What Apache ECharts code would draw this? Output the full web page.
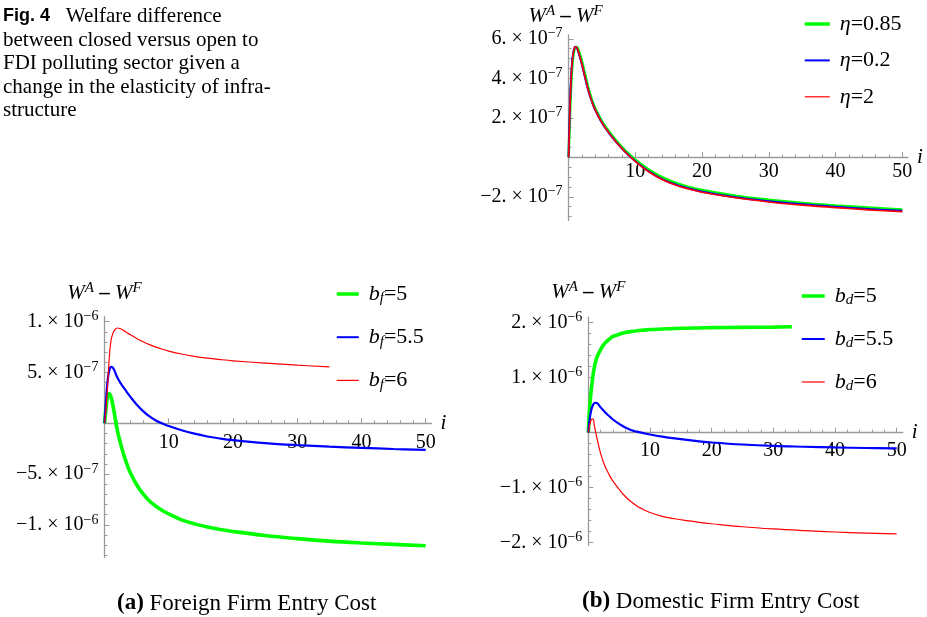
<!DOCTYPE html>
<html>
<head>
<meta charset="utf-8">
<script src="https://cdn.jsdelivr.net/npm/echarts@6/dist/echarts.min.js"></script>
<style>
  html, body { margin: 0; padding: 0; background: #ffffff; }
  #main { width: 927px; height: 617px; }
</style>
</head>
<body>
<div id="main"></div>
<script>
// Sample points along i (shared by most curves)
const iSteps = [0, 0.25, 0.5, 0.75, 1, 1.25, 1.5, 2, 2.5, 3, 3.5, 4, 5, 6, 7, 8, 9, 10,
                12, 14, 16, 18, 20, 25, 30, 35, 40, 45, 50];

// Elasticity of infrastructure: W^A - W^F in units of 1e-7
const eta085 = [0, 2.6, 4.4, 5.25, 5.55, 5.58, 5.42, 4.85, 4.15, 3.45, 2.9, 2.47, 1.82, 1.33, 0.9, 0.52, 0.18, -0.12,
                -0.62, -1.01, -1.29, -1.5, -1.66, -1.95, -2.15, -2.31, -2.44, -2.55, -2.64];
const eta02  = [0, 3.1, 4.75, 5.4, 5.6, 5.52, 5.28, 4.68, 3.98, 3.32, 2.8, 2.38, 1.74, 1.25, 0.82, 0.44, 0.1, -0.2,
                -0.71, -1.1, -1.38, -1.58, -1.74, -2.02, -2.22, -2.38, -2.51, -2.62, -2.71];
const eta2   = [0, 3.0, 4.7, 5.38, 5.6, 5.54, 5.31, 4.7, 4.0, 3.33, 2.81, 2.39, 1.75, 1.25, 0.82, 0.44, 0.09, -0.21,
                -0.73, -1.12, -1.4, -1.61, -1.77, -2.05, -2.26, -2.42, -2.55, -2.66, -2.75];

// (a) Foreign firm entry cost: W^A - W^F in units of 1e-7
const bf5  = [0, 1.6, 2.7, 2.9, 2.6, 1.95, 1.1, -0.7, -2.0, -3.1, -4.05, -4.85, -6.05, -6.95, -7.65, -8.17, -8.58, -8.92,
              -9.5, -9.9, -10.2, -10.45, -10.65, -11.05, -11.35, -11.6, -11.78, -11.92, -12.05];
const bf55 = [0, 2.4, 4.3, 5.2, 5.55, 5.5, 5.25, 4.5, 3.95, 3.5, 3.05, 2.62, 1.85, 1.2, 0.68, 0.28, -0.02, -0.27,
              -0.68, -1.02, -1.3, -1.5, -1.66, -1.95, -2.15, -2.3, -2.42, -2.53, -2.62];
const bf6  = [0, 1.6, 3.9, 6.5, 8.1, 8.75, 9.1, 9.38, 9.3, 9.12, 8.92, 8.73, 8.35, 8.02, 7.74, 7.5, 7.29, 7.11,
              6.82, 6.59, 6.41, 6.27, 6.15, 5.92, 5.72, 5.55];

// (b) Domestic firm entry cost: W^A - W^F in units of 1e-6
const bd5I = [0, 0.25, 0.5, 0.75, 1, 1.25, 1.5, 2, 2.5, 3, 3.5, 4, 5, 6, 7, 8, 9, 10,
              12, 14, 16, 18, 20, 25, 30, 33];
const bd5  = [0, 0.5, 0.8, 1.03, 1.2, 1.32, 1.4, 1.51, 1.6, 1.66, 1.71, 1.75, 1.79, 1.82, 1.84, 1.855, 1.865, 1.875,
              1.885, 1.895, 1.9, 1.905, 1.91, 1.915, 1.92, 1.925];
const bd55 = [0, 0.27, 0.42, 0.5, 0.54, 0.545, 0.53, 0.46, 0.4, 0.34, 0.29, 0.24, 0.16, 0.095, 0.045, 0.015, -0.01, -0.032,
              -0.07, -0.103, -0.132, -0.157, -0.178, -0.215, -0.24, -0.255, -0.268, -0.278, -0.285];
const bd6  = [0, 0.15, 0.24, 0.25, 0.12, -0.02, -0.15, -0.38, -0.55, -0.68, -0.79, -0.88, -1.03, -1.16, -1.26, -1.34, -1.4, -1.45,
              -1.52, -1.565, -1.6, -1.63, -1.655, -1.71, -1.75, -1.78, -1.805, -1.825, -1.84];

// Tick positions and labels
const xMajor = [0, 10, 20, 30, 40, 50];
const xLabels = [10, 20, 30, 40, 50];
const yMajorTop = [-2e-7, 0, 2e-7, 4e-7, 6e-7];
const yMajorA = [-1e-6, -5e-7, 0, 5e-7, 1e-6];
const yMajorB = [-2e-6, -1e-6, 0, 1e-6, 2e-6];

const SERIF = '"Liberation Serif", "Times New Roman", serif';
const AXIS_GRAY = '#9a9a9a';

// Panel frames: grid box plus value ranges
const panels = [
  { left: 568.6, top: 34.85, width: 339.4, height: 185.65, xMax: 50.85, yMin: -3.2e-7, yMax: 6.2e-7 },
  { left: 104.5, top: 316.6, width: 327.0, height: 240.8, xMax: 50.9, yMin: -1.32e-6, yMax: 1.05e-6 },
  { left: 588.3, top: 317.2, width: 314.5, height: 228.25, xMax: 51, yMin: -2.05e-6, yMax: 2.1e-6 }
];

function steps(from, to, step, skip) {
  const out = [];
  const n = Math.round((to - from) / step);
  for (let k = 0; k <= n; k++) {
    const v = +(from + k * step).toPrecision(10);
    if (!skip.some(s => Math.abs(s - v) < step * 1e-3)) out.push(v);
  }
  return out;
}

function pairs(xs, ys, scale) {
  return ys.map((y, k) => [xs[k], y * scale]);
}

function sciLabel(v) {
  if (Math.abs(v) < 1e-15) return '';
  const e = Math.floor(Math.log10(Math.abs(v)) + 1e-9);
  const m = Math.round(v / Math.pow(10, e));
  return '{m|' + (m < 0 ? '−' : '') + Math.abs(m) + '. × 10}{s|−' + (-e) + '}';
}

const tickRich = {
  m: { fontFamily: SERIF, fontSize: 20, lineHeight: 24, color: '#000' },
  s: { fontFamily: SERIF, fontSize: 14, lineHeight: 13, verticalAlign: 'top', color: '#000' }
};

const nameRich = {
  w: { fontFamily: SERIF, fontStyle: 'italic', fontSize: 21, lineHeight: 26, color: '#000' },
  s: { fontFamily: SERIF, fontStyle: 'italic', fontSize: 15, lineHeight: 14, verticalAlign: 'top', color: '#000' },
  o: { fontFamily: SERIF, fontSize: 21, lineHeight: 26, color: '#000', fontWeight: 'bold' }
};
const yName = '{w|W}{s|A}{o| – }{w|W}{s|F}';

// the horizontal axis sits where W^A - W^F = 0
function zeroOffset(p) {
  return -p.height * (0 - p.yMin) / (p.yMax - p.yMin);
}

function mainX(g, labelMargin) {
  const p = panels[g];
  return {
    type: 'value', gridIndex: g, min: 0, max: p.xMax, position: 'bottom', offset: zeroOffset(p),
    name: 'i', nameLocation: 'end', nameGap: 9,
    nameTextStyle: { fontFamily: SERIF, fontStyle: 'italic', fontSize: 21, color: '#000', verticalAlign: 'middle' },
    axisLine: { show: true, onZero: false, lineStyle: { color: AXIS_GRAY, width: 1.3 } },
    axisTick: { show: true, inside: true, length: 5, customValues: xMajor, lineStyle: { color: AXIS_GRAY, width: 1 } },
    axisLabel: { show: true, customValues: xLabels, margin: labelMargin, fontFamily: SERIF, fontSize: 20, color: '#000' },
    splitLine: { show: false }, minorTick: { show: false }
  };
}
function minorX(g) {
  const p = panels[g];
  return {
    type: 'value', gridIndex: g, min: 0, max: p.xMax, position: 'bottom', offset: zeroOffset(p),
    axisLine: { show: false, onZero: false },
    axisTick: { show: true, inside: true, length: 3, customValues: steps(0, 50, 2, xMajor), lineStyle: { color: AXIS_GRAY, width: 1 } },
    axisLabel: { show: false }, splitLine: { show: false }
  };
}
function mainY(g, major, gap, namePad) {
  const p = panels[g];
  return {
    type: 'value', gridIndex: g, min: p.yMin, max: p.yMax, position: 'left',
    name: yName, nameLocation: 'end', nameGap: gap,
    nameTextStyle: { rich: nameRich, padding: namePad },
    axisLine: { show: true, onZero: false, lineStyle: { color: AXIS_GRAY, width: 1.3 } },
    axisTick: { show: true, inside: true, length: 5, customValues: major, lineStyle: { color: AXIS_GRAY, width: 1 } },
    axisLabel: { show: true, customValues: major.filter(v => v !== 0), margin: 6, formatter: sciLabel, rich: tickRich },
    splitLine: { show: false }
  };
}
function minorY(g, minorVals) {
  const p = panels[g];
  return {
    type: 'value', gridIndex: g, min: p.yMin, max: p.yMax, position: 'left',
    axisLine: { show: false, onZero: false },
    axisTick: { show: true, inside: true, length: 3, customValues: minorVals, lineStyle: { color: AXIS_GRAY, width: 1 } },
    axisLabel: { show: false }, splitLine: { show: false }
  };
}

function line(name, axis, data, color, width) {
  return {
    name: name, type: 'line', xAxisIndex: axis, yAxisIndex: axis, data: data,
    symbol: 'none', smooth: 0.4,
    lineStyle: { color: color, width: width }, itemStyle: { color: color },
    emphasis: { disabled: true }
  };
}

const legendNames = {
  'η=0.85': '{g|η}{n|=0.85}', 'η=0.2': '{g|η}{n|=0.2}', 'η=2': '{g|η}{n|=2}',
  'b_f=5': '{g|b}{sub|f}{n|=5}', 'b_f=5.5': '{g|b}{sub|f}{n|=5.5}', 'b_f=6': '{g|b}{sub|f}{n|=6}',
  'b_d=5': '{g|b}{sub|d}{n|=5}', 'b_d=5.5': '{g|b}{sub|d}{n|=5.5}', 'b_d=6': '{g|b}{sub|d}{n|=6}'
};
const legendRich = {
  g: { fontFamily: SERIF, fontStyle: 'italic', fontSize: 22, lineHeight: 24, color: '#000' },
  n: { fontFamily: SERIF, fontSize: 22, lineHeight: 24, color: '#000' },
  sub: { fontFamily: SERIF, fontStyle: 'italic', fontSize: 15, lineHeight: 14, verticalAlign: 'bottom', color: '#000' }
};
function legend(names, widths, left, top, gap, iconW) {
  return {
    orient: 'vertical', left: left, top: top, itemGap: gap, itemWidth: iconW, itemHeight: 14,
    selectedMode: false,
    itemStyle: { opacity: 0, borderWidth: 0 },
    data: names.map((n, k) => ({ name: n, lineStyle: { width: widths[k] } })),
    formatter: n => legendNames[n],
    textStyle: { rich: legendRich, padding: [0, 0, 0, 5] }
  };
}

const chart = echarts.init(document.getElementById('main'), null, { renderer: 'canvas' });
chart.setOption({
  animation: false,
  backgroundColor: '#ffffff',
  grid: panels.map(p => ({ left: p.left, top: p.top, width: p.width, height: p.height, outerBoundsMode: 'none' })),
  xAxis: [
    mainX(0, 4), minorX(0),
    mainX(1, 9), minorX(1),
    mainX(2, 8), minorX(2)
  ],
  yAxis: [
    mainY(0, yMajorTop, 1, [0, 6, 0, 0]), minorY(0, steps(-3e-7, 6e-7, 0.5e-7, yMajorTop)),
    mainY(1, yMajorA, 10, [0, 0, 0, 0]), minorY(1, steps(-1.3e-6, 1e-6, 1e-7, yMajorA)),
    mainY(2, yMajorB, 12, [0, 0, 0, 0]), minorY(2, steps(-2e-6, 2e-6, 2e-7, yMajorB))
  ],
  legend: [
    legend(['η=0.85', 'η=0.2', 'η=2'], [3.5, 2, 1.2], 798, 8, 14.4, 25),
    legend(['b_f=5', 'b_f=5.5', 'b_f=6'], [3.5, 2, 1.2], 330, 278, 20.2, 22),
    legend(['b_d=5', 'b_d=5.5', 'b_d=6'], [3.5, 2, 1.2], 795, 280, 20, 23)
  ],
  series: [
    line('η=0.85', 0, pairs(iSteps, eta085, 1e-7), '#00ff00', 2.6),
    line('η=0.2', 0, pairs(iSteps, eta02, 1e-7), '#0000ff', 2),
    line('η=2', 0, pairs(iSteps, eta2, 1e-7), '#ff0000', 1.6),
    line('b_f=5', 2, pairs(iSteps, bf5, 1e-7), '#00ff00', 3.6),
    line('b_f=5.5', 2, pairs(iSteps, bf55, 1e-7), '#0000ff', 2.2),
    line('b_f=6', 2, pairs(iSteps, bf6, 1e-7), '#ff0000', 1.2),
    line('b_d=5', 4, pairs(bd5I, bd5, 1e-6), '#00ff00', 3.6),
    line('b_d=5.5', 4, pairs(iSteps, bd55, 1e-6), '#0000ff', 2.2),
    line('b_d=6', 4, pairs(iSteps, bd6, 1e-6), '#ff0000', 1.2)
  ],
  graphic: [
    {
      type: 'text', left: 3, top: 6,
      style: {
        text: '{fig|Fig. 4}{t|   Welfare difference}\n{t|between closed versus open to}\n{t|FDI polluting sector given a}\n{t|change in the elasticity of infra-}\n{t|structure}',
        rich: {
          fig: { fontFamily: '"Liberation Sans", Arial, sans-serif', fontWeight: 'bold', fontSize: 18, lineHeight: 23.5, fill: '#000' },
          t: { fontFamily: SERIF, fontSize: 21, lineHeight: 23.5, fill: '#000' }
        }
      }
    },
    {
      type: 'text', left: 117, top: 592,
      style: {
        text: '{b|(a)}{t| Foreign Firm Entry Cost}',
        rich: {
          b: { fontFamily: SERIF, fontWeight: 'bold', fontSize: 23, lineHeight: 26, fill: '#000' },
          t: { fontFamily: SERIF, fontSize: 23, lineHeight: 26, fill: '#000' }
        }
      }
    },
    {
      type: 'text', left: 582, top: 590,
      style: {
        text: '{b|(b)}{t| Domestic Firm Entry Cost}',
        rich: {
          b: { fontFamily: SERIF, fontWeight: 'bold', fontSize: 23, lineHeight: 26, fill: '#000' },
          t: { fontFamily: SERIF, fontSize: 23, lineHeight: 26, fill: '#000' }
        }
      }
    }
  ]
});
</script>
</body>
</html>
